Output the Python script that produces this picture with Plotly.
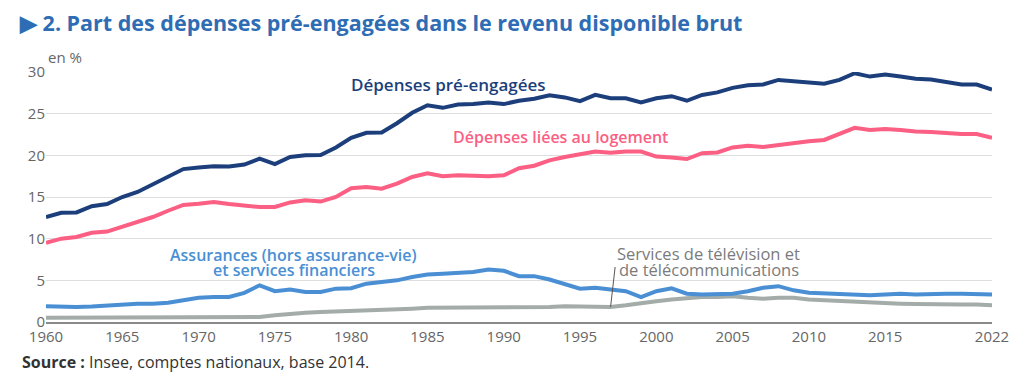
import plotly.graph_objects as go

years = list(range(1960, 2023))

pre_engagees = [12.6, 13.1, 13.15, 13.9, 14.15, 15.0, 15.6, 16.5, 17.35, 18.35,
                18.55, 18.7, 18.65, 18.9, 19.6, 18.95, 19.8, 20.0, 20.05, 20.95,
                22.1, 22.7, 22.75, 23.85, 25.1, 26.0, 25.7, 26.1, 26.15, 26.35,
                26.15, 26.55, 26.8, 27.2, 26.95, 26.5, 27.25, 26.85, 26.85, 26.35,
                26.85, 27.1, 26.55, 27.25, 27.55, 28.1, 28.4, 28.5, 29.05, 28.9,
                28.7, 28.6, 29.05, 29.85, 29.45, 29.7, 29.45, 29.2, 29.1, 28.8,
                28.5, 28.5, 27.9]

logement = [9.5, 10.0, 10.2, 10.7, 10.85, 11.4, 11.95, 12.6, 13.35, 14.05,
            14.2, 14.4, 14.15, 13.95, 13.8, 13.8, 14.35, 14.6, 14.45, 15.0,
            16.05, 16.2, 16.0, 16.6, 17.4, 17.85, 17.5, 17.6, 17.55, 17.5,
            17.6, 18.45, 18.75, 19.4, 19.8, 20.1, 20.45, 20.3, 20.45, 20.45,
            19.85, 19.75, 19.55, 20.25, 20.35, 20.95, 21.15, 21.0, 21.25, 21.5,
            21.7, 21.85, 22.55, 23.3, 23.05, 23.15, 23.05, 22.85, 22.8, 22.65,
            22.55, 22.55, 22.1]

assurances = [1.9, 1.8, 1.8, 1.85, 2.0, 2.15, 2.2, 2.2, 2.3, 2.6,
              2.9, 3.0, 3.0, 3.5, 4.4, 3.7, 3.9, 3.6, 3.6, 4.0,
              4.05, 4.6, 4.8, 5.0, 5.4, 5.7, 5.8, 5.95, 6.0, 6.3,
              6.15, 5.5, 5.5, 5.1, 4.6, 4.0, 4.1, 3.9, 3.7, 3.0,
              3.7, 4.05, 3.4, 3.3, 3.4, 3.4, 3.7, 4.1, 4.3, 3.8,
              3.5, 3.4, 3.3, 3.3, 3.2, 3.3, 3.4, 3.3, 3.4, 3.4,
              3.4, 3.3, 3.3]

telecom = [0.5, 0.5, 0.5, 0.5, 0.5, 0.5, 0.5, 0.5, 0.5, 0.55,
           0.6, 0.6, 0.6, 0.6, 0.6, 0.8, 1.0, 1.1, 1.2, 1.25,
           1.4, 1.4, 1.4, 1.5, 1.6, 1.7, 1.7, 1.8, 1.7, 1.7,
           1.7, 1.7, 1.7, 1.8, 1.9, 1.9, 1.8, 1.8, 2.0, 2.3,
           2.5, 2.7, 2.9, 3.0, 3.0, 3.1, 2.9, 2.8, 2.9, 2.9,
           2.7, 2.6, 2.5, 2.4, 2.4, 2.3, 2.2, 2.15, 2.1, 2.1,
           2.1, 2.1, 2.0]

x_tickvals = [1960, 1965, 1970, 1975, 1980, 1985, 1990, 1995, 2000, 2005, 2010, 2015, 2022]
y_tickvals = [0, 5, 10, 15, 20, 25, 30]

C_DARK = "#1c3f7c"
C_PINK = "#fb5f83"
C_LBLUE = "#4a8fd4"
C_GRAY = "#a3aca8"
FONT = "Open Sans"

# page body has an 8px default margin: figure is sized/offset to compensate
W, H = 1016, 370

fig = go.Figure()
for vals, col in [(telecom, C_GRAY), (assurances, C_LBLUE), (logement, C_PINK), (pre_engagees, C_DARK)]:
    fig.add_trace(go.Scatter(x=years, y=vals, mode="lines",
                             line=dict(color=col, width=4), hoverinfo="skip",
                             showlegend=False))

def lab(x, y, text, color, size=16, weight=600):
    fig.add_annotation(x=x, y=y, xref="x", yref="y", text=text, showarrow=False,
                       font=dict(family=FONT, size=size, color=color, weight=weight),
                       xanchor="center", yanchor="middle")

lab(1986.4, 28.45, "Dépenses pré-engagées", C_DARK, size=17)
lab(1993.7, 22.2, "Dépenses liées au logement", C_PINK, size=16)
lab(1976.25, 8.02, "Assurances (hors assurance-vie)", C_LBLUE, size=16)
lab(1976.25, 6.21, "et services financiers", C_LBLUE, size=16)
lab(2003.45, 8.26, "Services de télévision et", "#7b7b7b", size=16.5, weight=400)
lab(2003.45, 6.33, "de télécommunications", "#7b7b7b", size=16.5, weight=400)

fig.add_shape(type="line", xref="x", yref="y", x0=1997.0, y0=1.8, x1=1997.3, y1=6.6,
              line=dict(color="#555555", width=1))

fig.add_annotation(xref="paper", yref="paper", x=0.0, y=1.06, text="en %",
                   showarrow=False, xanchor="left", yanchor="middle",
                   font=dict(family=FONT, size=15, color="#666666"))
fig.add_annotation(xref="paper", yref="paper", x=-0.0275, y=-0.161,
                   text="<b>Source :</b> Insee, comptes nationaux, base 2014.",
                   showarrow=False, xanchor="left", yanchor="middle",
                   font=dict(family=FONT, size=16, color="#333333"))

fig.update_layout(
    width=W, height=H,
    margin=dict(l=38, r=32, t=64, b=56),
    paper_bgcolor="white", plot_bgcolor="white",
    title=dict(text="<span style='font-size:22px'>▶</span> 2. Part des dépenses pré-engagées dans le revenu disponible brut",
               x=12/W, xref="container", xanchor="left",
               y=1 - 15/H, yref="container", yanchor="middle",
               font=dict(family=FONT, size=21.5, color="#2e6db4", weight=700)),
    xaxis=dict(range=[1960, 2022], tickvals=x_tickvals, showgrid=False,
               zeroline=False, showline=True, linecolor="#8a8a8a", linewidth=2,
               ticks="", tickfont=dict(family=FONT, size=15, color="#666666")),
    yaxis=dict(range=[0, 30], tickvals=y_tickvals, showgrid=True,
               gridcolor="#dedede", gridwidth=1, zeroline=False, showline=False,
               ticks="", tickfont=dict(family=FONT, size=15, color="#666666")),
)

fig.write_html("out.html")
